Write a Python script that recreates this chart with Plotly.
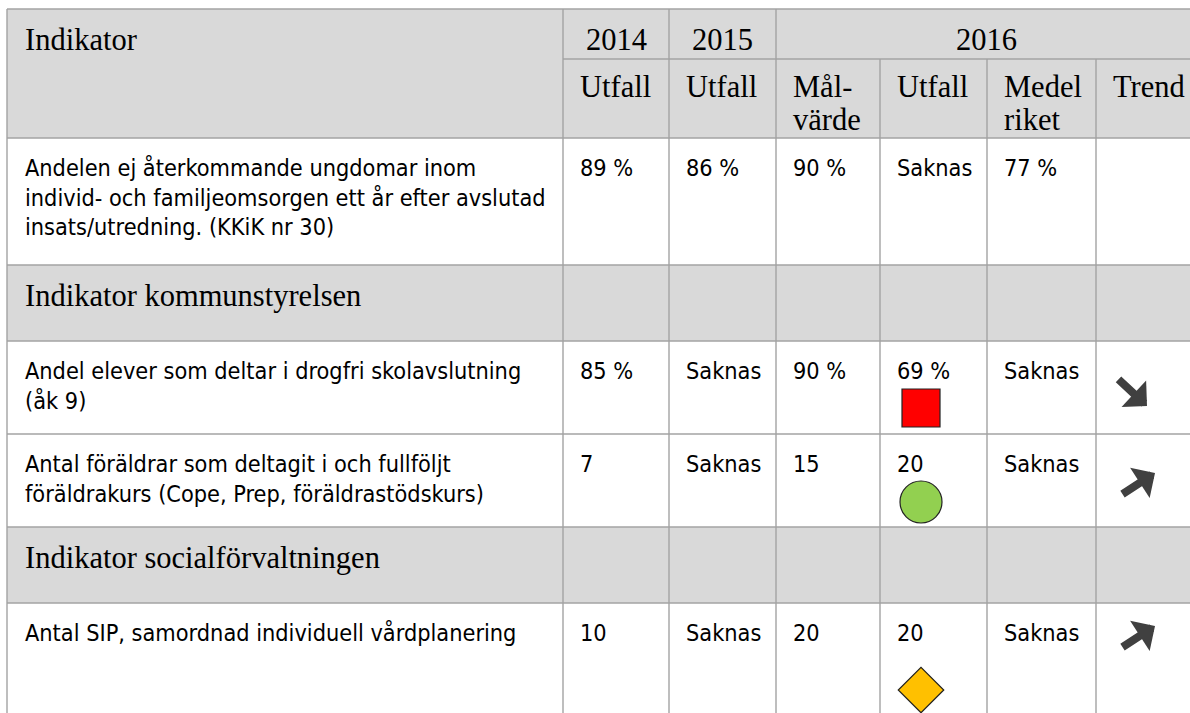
import plotly.graph_objects as go

# ---------------- data ----------------
indicators = [
    "Andelen ej återkommande ungdomar inom\nindivid- och familjeomsorgen ett år efter avslutad\ninsats/utredning. (KKiK nr 30)",
    "Indikator kommunstyrelsen",
    "Andel elever som deltar i drogfri skolavslutning\n(åk 9)",
    "Antal föräldrar som deltagit i och fullföljt\nföräldrakurs (Cope, Prep, föräldrastödskurs)",
    "Indikator socialförvaltningen",
    "Antal SIP, samordnad individuell vårdplanering",
]
row_kind = ["data", "section", "data", "data", "section", "data"]
utfall_2014 = ["89 %", None, "85 %", "7", None, "10"]
utfall_2015 = ["86 %", None, "Saknas", "Saknas", None, "Saknas"]
malvarde_2016 = ["90 %", None, "90 %", "15", None, "20"]
utfall_2016 = ["Saknas", None, "69 %", "20", None, "20"]
medel_riket = ["77 %", None, "Saknas", "Saknas", None, "Saknas"]
status = [None, None, "röd", "grön", None, "gul"]
trend = [None, None, "ned", "upp", None, "upp"]

header_title = "Indikator"
years = ["2014", "2015", "2016"]
sub_headers = ["Utfall", "Utfall", "Mål-\nvärde", "Utfall", "Medel\nriket", "Trend"]

# ---------------- layout / style ----------------
W, H = 1190, 713
col_edges = [7, 563, 669, 776, 880, 987, 1096, 1196]
head_top, head_mid, head_bot = 9, 59, 138
row_edges = [138, 265, 341, 434, 527, 603, 720]
PAD = 15
GRID = "#a3a3a3"
HEAD_FILL = "#d9d9d9"
SERIF = "Liberation Serif, Times New Roman, serif"
SANS = "DejaVu Sans Condensed, DejaVu Sans, sans-serif"
SERIF_SIZE = 30.5
SANS_SIZE = 23.3
SANS_LS = 29.5
SERIF_LS = 33

status_style = {
    "röd": dict(symbol="square", color="#ff0000", size=38),
    "grön": dict(symbol="circle", color="#92d050", size=42),
    "gul": dict(symbol="diamond", color="#ffc000", size=35),
}
status_dy = [None, None, 67, 68, None, 87]
trend_dy = [None, None, 51, 50, None, 34]

fig = go.Figure()
shapes = []
annots = []

def hline(y, x0, x1):
    shapes.append(dict(type="line", xref="x", yref="y", x0=x0, x1=x1, y0=y, y1=y,
                       line=dict(color=GRID, width=1.4), layer="above"))

def vline(x, y0, y1):
    shapes.append(dict(type="line", xref="x", yref="y", x0=x, x1=x, y0=y0, y1=y1,
                       line=dict(color=GRID, width=1.4), layer="above"))

def rect(x0, x1, y0, y1, color):
    shapes.append(dict(type="rect", xref="x", yref="y", x0=x0, x1=x1, y0=y0, y1=y1,
                       fillcolor=color, line=dict(width=0), layer="below"))

def text(x, y, s, font, size, anchor="left"):
    annots.append(dict(x=x, y=y, xref="x", yref="y", text=s, showarrow=False,
                       xanchor=anchor, yanchor="middle",
                       font=dict(family=font, size=size, color="#000000")))

def multiline(x, top_center, s, font, size, ls, anchor="left"):
    for i, line in enumerate(s.split("\n")):
        text(x, top_center + i * ls, line, font, size, anchor)

# header fill
rect(col_edges[0], col_edges[-1], head_top, head_bot, HEAD_FILL)
# section fills
for i, kind in enumerate(row_kind):
    if kind == "section":
        rect(col_edges[0], col_edges[-1], row_edges[i], row_edges[i + 1], HEAD_FILL)

# grid
hline(head_top, col_edges[0], col_edges[-1])
hline(head_mid, col_edges[1], col_edges[-1])
for y in row_edges[:-1]:
    hline(y, col_edges[0], col_edges[-1])
for x in col_edges[:4]:
    vline(x, head_top, row_edges[-1])
for x in col_edges[4:7]:
    vline(x, head_mid, row_edges[-1])

# header texts
serif_c = 42 - 0.35 * SERIF_SIZE
text(col_edges[0] + 16, head_top + serif_c, header_title, SERIF, SERIF_SIZE)
text((col_edges[1] + col_edges[2]) / 2, head_top + serif_c, years[0], SERIF, SERIF_SIZE, "center")
text((col_edges[2] + col_edges[3]) / 2, head_top + serif_c, years[1], SERIF, SERIF_SIZE, "center")
text((col_edges[3] + col_edges[-1]) / 2, head_top + serif_c, years[2], SERIF, SERIF_SIZE, "center")
for j, lab in enumerate(sub_headers):
    multiline(col_edges[j + 1] + PAD, head_mid + 39 - 0.35 * SERIF_SIZE, lab, SERIF, SERIF_SIZE, SERIF_LS)

# body
sans_c = 38 - 0.35 * SANS_SIZE
value_cols = [utfall_2014, utfall_2015, malvarde_2016, utfall_2016, medel_riket]
for i, kind in enumerate(row_kind):
    top = row_edges[i]
    if kind == "section":
        text(col_edges[0] + 16, top + serif_c, indicators[i], SERIF, SERIF_SIZE)
        continue
    multiline(col_edges[0] + 16, top + sans_c, indicators[i], SANS, SANS_SIZE, SANS_LS)
    for j, col in enumerate(value_cols):
        if col[i] is not None:
            text(col_edges[j + 1] + PAD, top + sans_c, col[i], SANS, SANS_SIZE)

# status markers
for i, st in enumerate(status):
    if st is None:
        continue
    s = status_style[st]
    cx = col_edges[4] + 41
    fig.add_trace(go.Scatter(
        x=[cx], y=[row_edges[i] + status_dy[i]], mode="markers", hoverinfo="skip",
        marker=dict(symbol=s["symbol"], size=s["size"], color=s["color"],
                    line=dict(color="#222222", width=1.2)),
        showlegend=False))

# trend arrows
for i, t in enumerate(trend):
    if t is None:
        continue
    cy = row_edges[i] + trend_dy[i]
    if t == "ned":
        cx = col_edges[6] + 36
        x0, y0, x1, y1 = cx - 15, cy - 14, cx + 15, cy + 14
    else:
        cx = col_edges[6] + 42
        x0, y0, x1, y1 = cx - 17, cy + 11, cx + 17, cy - 11
    annots.append(dict(x=x1, y=y1, ax=x0, ay=y0, xref="x", yref="y", axref="x", ayref="y",
                       text="", showarrow=True, arrowhead=1, arrowsize=0.75,
                       arrowwidth=8, arrowcolor="#404040"))

fig.update_layout(
    width=W, height=H, margin=dict(l=0, r=0, t=0, b=0),
    paper_bgcolor="white", plot_bgcolor="white",
    xaxis=dict(range=[0, W], visible=False, fixedrange=True),
    yaxis=dict(range=[H, 0], visible=False, fixedrange=True),
    shapes=shapes, annotations=annots, showlegend=False,
)
fig.write_html("out.html", config={"displayModeBar": False},
               post_script="document.body.style.margin='0px';document.body.style.overflow='hidden';")
